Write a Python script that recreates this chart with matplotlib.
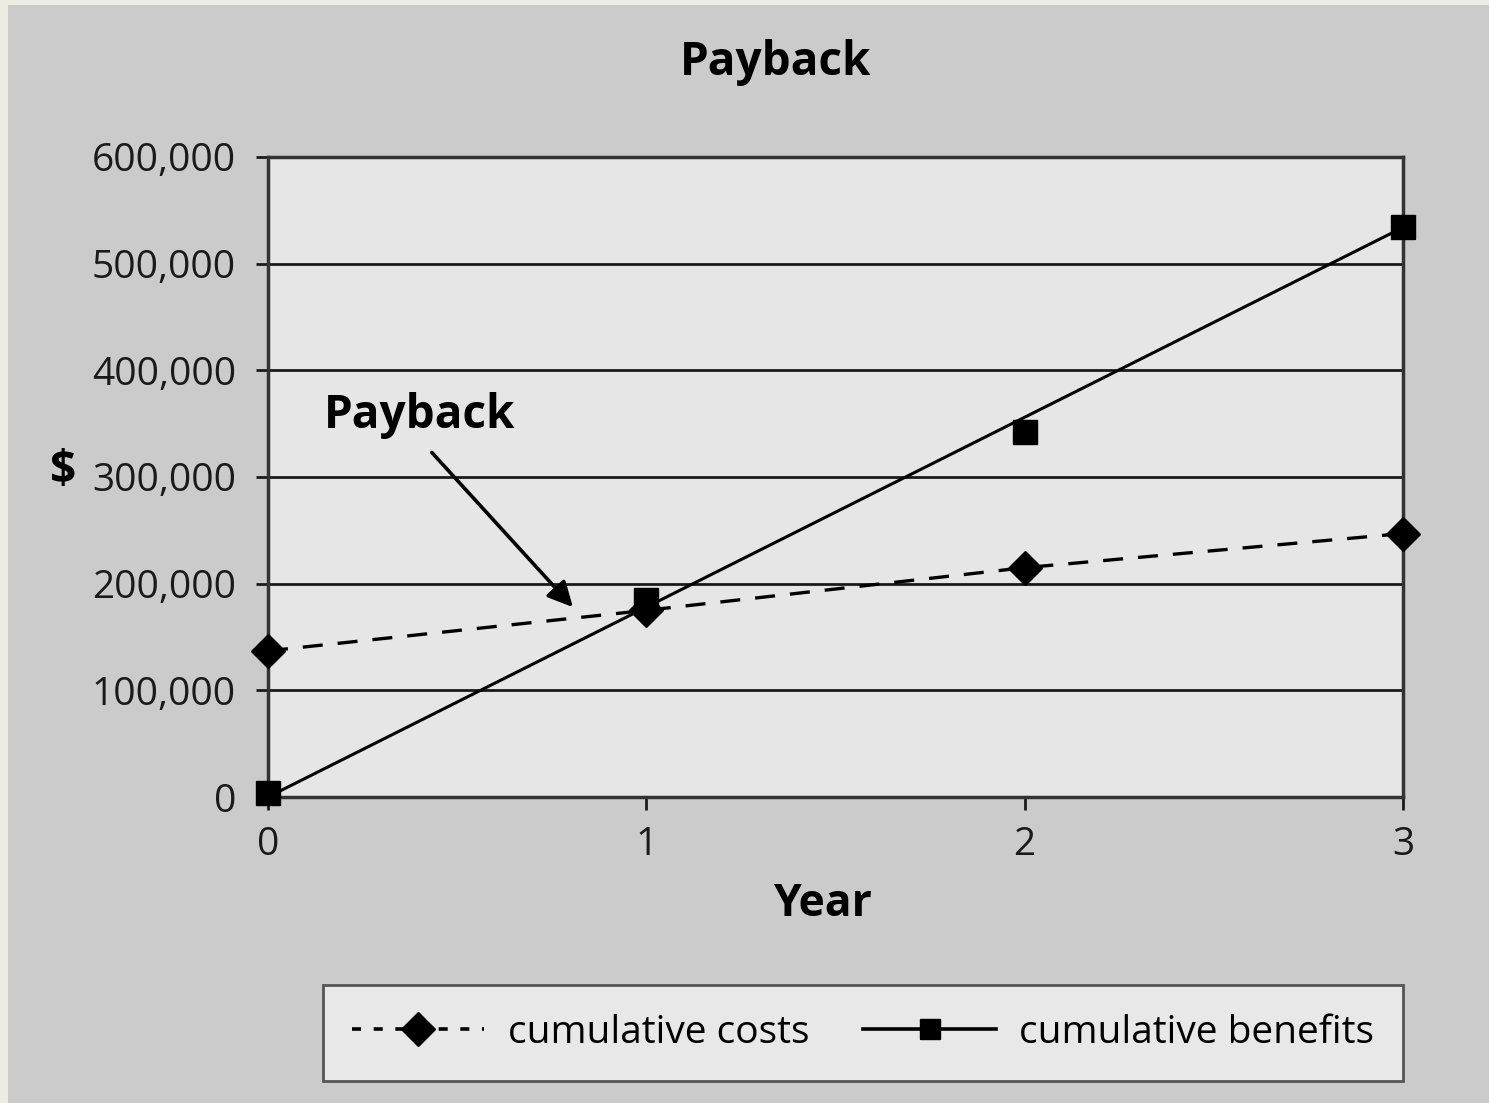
#Payback chart: cumulative costs vs cumulative benefits per year
import matplotlib.pyplot as plt
from matplotlib.patches import Rectangle
from matplotlib.ticker import FuncFormatter
from matplotlib.lines import Line2D

years = [0, 1, 2, 3]
cumulative_costs = [137000, 175000, 215000, 247000]
cumulative_benefits = [4000, 185000, 342000, 534000]
y_ticks = [0, 100000, 200000, 300000, 400000, 500000, 600000]

plt.rcParams['font.family'] = ['Open Sans', 'DejaVu Sans']

fig = plt.figure(figsize=(14.89, 11.03), dpi=100)
fig.patch.set_facecolor('#efece4')
# gray chart area
fig.patches.append(Rectangle((8 / 1489, 0), 1, 1 - 5 / 1103, transform=fig.transFigure,
                             facecolor='#cbcbcb', edgecolor='none', zorder=-10))

ax = fig.add_axes([268 / 1489, 1 - 797 / 1103, (1403 - 268) / 1489, (797 - 157) / 1103])
ax.set_facecolor('#e6e6e6')

# costs: dashed line through the points
ax.plot(years, cumulative_costs, color='black', linestyle=(0, (6, 4.5)), linewidth=2.4,
        marker='D', markersize=17, clip_on=False, zorder=4)
# benefits: straight line from first to last year, markers on each year
ax.plot([years[0], years[-1]], [0, cumulative_benefits[-1]], color='black', linewidth=2.2,
        zorder=3)
ax.plot(years, cumulative_benefits, linestyle='none', color='black', marker='s', markersize=17,
        clip_on=False, zorder=5)

ax.set_xlim(0, 3)
ax.set_ylim(0, 600000)
ax.set_xticks(years)
ax.set_yticks(y_ticks)
ax.yaxis.set_major_formatter(FuncFormatter(lambda v, p: '{:,.0f}'.format(v)))
ax.grid(axis='y', color='#1a1a1a', linewidth=2)
ax.set_axisbelow(True)
for s in ax.spines.values():
    s.set_color('#333333')
    s.set_linewidth(2.5)
ax.tick_params(axis='both', labelsize=28, colors='#1a1a1a', width=2, length=9)
ax.tick_params(axis='y', pad=14)
ax.tick_params(axis='x', pad=12)

ax.set_xlabel('Year', fontsize=32, fontweight='bold', labelpad=18)
ax.xaxis.set_label_coords(554 / 1135, -85 / 640)
fig.text(63 / 1489, 1 - 472 / 1103, '$', fontsize=33, fontweight='bold', ha='center', va='center')
fig.text(776 / 1489, 1 - 63 / 1103, 'Payback', fontsize=33, fontweight='bold', ha='center', va='center')

# payback callout
ax.text(0.40, 358000, 'Payback', fontsize=33, fontweight='bold', ha='center', va='center')
ax.annotate('', xy=(0.806, 178000), xytext=(0.433, 323000),
            arrowprops=dict(arrowstyle='-|>', color='black', lw=2.6, mutation_scale=38,
                            shrinkA=0, shrinkB=0))

handles = [Line2D([], [], color='black', linestyle=(0, (2.5, 3.5)), linewidth=2.6, marker='D', markersize=17),
           Line2D([], [], color='black', linewidth=2.6, marker='s', markersize=15)]
leg = fig.legend(handles, ['cumulative costs', 'cumulative benefits'], ncol=2, fontsize=28,
                 loc='center', bbox_to_anchor=(863 / 1489, 1 - 1033 / 1103),
                 frameon=True, fancybox=False, edgecolor='#555555', facecolor='#e8e8e8',
                 borderpad=0.75, handlelength=3.4, columnspacing=1.4, handletextpad=0.6)
leg.get_frame().set_linewidth(2)
leg.get_frame().set_alpha(1)

plt.savefig('out.png', dpi=100, facecolor=fig.get_facecolor())
